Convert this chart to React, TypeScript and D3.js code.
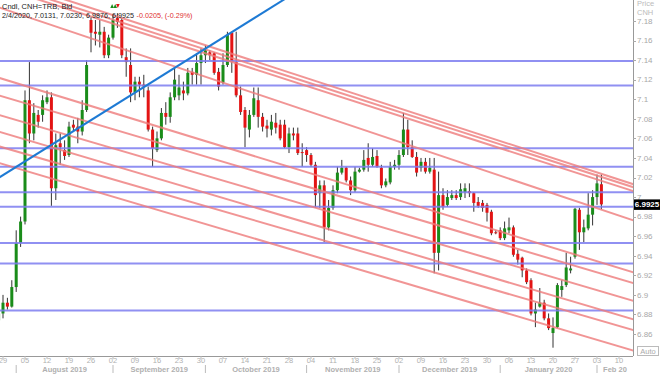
import React from 'react';
import * as d3 from 'd3';

// ---- candle data (daily, index 0 = Mon 29 Jul 2019) ----
const firstIndex = -1;
const opens = [6.874,6.881,6.892,6.888,6.908,6.953,6.975,7.099,7.065,7.084,7.084,7.097,7.102,7.009,7.055,7.048,7.043,7.074,7.072,7.067,7.089,
7.181,7.169,7.166,7.169,7.145,7.163,7.183,7.181,7.143,7.135,7.107,7.118,7.115,7.109,7.069,7.048,7.060,7.086,7.082,7.102,
7.104,7.109,7.106,7.128,7.125,7.137,7.145,7.148,7.147,7.128,7.117,7.135,7.168,7.138,7.104,7.089,7.069,7.084,7.099,7.082,
7.073,7.069,7.076,7.074,7.074,7.051,7.065,7.065,7.046,7.048,7.043,7.033,7.004,7.012,6.969,6.989,7.007,7.025,7.030,7.017,
7.007,7.026,7.028,7.040,7.033,7.042,7.030,7.012,7.015,7.031,7.033,7.043,7.069,7.051,7.041,7.030,7.036,7.026,7.028,6.943,
7.002,6.992,6.999,7.002,7.000,7.005,7.006,7.004,6.995,6.994,6.992,6.985,6.964,6.966,6.958,6.966,6.969,6.942,6.938,6.925,
6.915,6.881,6.888,6.892,6.876,6.861,6.867,6.905,6.910,6.925,6.939,6.987,6.964,6.968,6.982,7.000,7.0131];
const highs = [6.885,6.900,6.897,6.915,6.966,6.980,7.109,7.138,7.096,7.089,7.104,7.109,7.107,7.065,7.065,7.058,7.077,7.079,7.081,7.099,7.140,
7.183,7.181,7.181,7.174,7.166,7.187,7.188,7.183,7.152,7.152,7.123,7.123,7.125,7.113,7.072,7.067,7.091,7.097,7.107,7.132,
7.125,7.118,7.132,7.132,7.147,7.152,7.155,7.150,7.148,7.132,7.147,7.169,7.169,7.169,7.113,7.092,7.089,7.112,7.112,7.086,
7.079,7.084,7.086,7.079,7.079,7.071,7.071,7.071,7.055,7.051,7.045,7.036,7.017,7.017,6.997,7.012,7.031,7.038,7.031,7.021,
7.031,7.030,7.048,7.055,7.050,7.048,7.033,7.019,7.036,7.038,7.048,7.086,7.079,7.058,7.046,7.040,7.040,7.040,7.040,7.026,
7.009,7.007,7.007,7.007,7.014,7.014,7.014,7.005,7.000,6.997,6.994,6.987,6.966,6.969,6.975,6.979,6.971,6.946,6.939,6.927,
6.917,6.892,6.907,6.895,6.881,6.877,6.912,6.915,6.943,6.939,6.989,6.989,6.977,7.004,7.007,7.023,7.0230];
const lows = [6.869,6.876,6.885,6.887,6.903,6.949,6.972,7.055,7.058,7.071,7.077,7.095,6.991,6.997,7.033,7.038,7.041,7.067,7.055,7.063,7.087,
7.148,7.155,7.153,7.142,7.142,7.161,7.173,7.142,7.123,7.097,7.099,7.102,7.102,7.067,7.031,7.046,7.058,7.074,7.076,7.099,
7.099,7.099,7.104,7.115,7.115,7.115,7.137,7.140,7.125,7.109,7.115,7.133,7.127,7.102,7.084,7.051,7.061,7.082,7.071,7.067,
7.061,7.063,7.065,7.058,7.050,7.045,7.058,7.043,7.031,7.036,7.031,6.989,6.989,6.954,6.966,6.987,7.004,7.023,7.015,7.002,
7.005,7.025,7.026,7.026,7.031,7.030,7.009,7.010,7.013,7.028,7.028,7.041,7.043,7.040,7.021,7.026,7.024,7.024,6.922,6.925,
6.987,6.990,6.997,6.997,6.997,6.999,7.000,6.985,6.989,6.985,6.975,6.961,6.962,6.956,6.956,6.963,6.939,6.931,6.918,6.911,
6.879,6.867,6.887,6.874,6.864,6.846,6.866,6.898,6.908,6.922,6.937,6.946,6.954,6.966,6.971,6.992,6.9876];
const closes = [6.881,6.892,6.888,6.908,6.953,6.975,7.099,7.065,7.086,7.077,7.099,7.102,7.009,7.053,7.051,7.042,7.072,7.071,7.067,7.089,7.135,
7.168,7.167,7.169,7.145,7.163,7.181,7.179,7.145,7.138,7.107,7.118,7.115,7.113,7.069,7.050,7.060,7.086,7.082,7.102,7.120,
7.112,7.106,7.127,7.125,7.137,7.145,7.150,7.145,7.127,7.113,7.135,7.166,7.138,7.104,7.087,7.071,7.084,7.101,7.082,7.072,
7.070,7.077,7.071,7.060,7.051,7.065,7.063,7.045,7.045,7.043,7.033,7.002,7.012,6.969,6.989,7.007,7.025,7.030,7.017,7.007,
7.026,7.028,7.038,7.033,7.041,7.031,7.012,7.016,7.031,7.033,7.043,7.069,7.051,7.041,7.025,7.036,7.026,7.030,6.943,7.002,
6.990,7.000,7.002,6.999,7.008,7.009,7.004,6.994,6.991,6.989,6.984,6.963,6.963,6.958,6.968,6.969,6.941,6.936,6.925,6.913,
6.881,6.885,6.892,6.876,6.866,6.866,6.910,6.909,6.928,6.927,6.988,6.964,6.969,6.982,7.000,7.014,6.9925];

// ---- axis labels ----
const weekLabels = ['29','05','12','19','26','02','09','16','23','30','07','14','21','28','04','11','18','25','02','09','16','23','30','06','13','20','27','03','10'];
const monthLabels = ['August 2019','September 2019','October 2019','November 2019','December 2019','January 2020','Feb 20'];
const monthFirstIdx = [3, 25, 46, 69, 90, 113, 135];
const priceTicks = [6.86,6.88,6.9,6.92,6.94,6.96,6.98,7,7.02,7.04,7.06,7.08,7.1,7.12,7.14,7.16,7.18];

// ---- drawings ----
const levelPrices = [7.139, 7.114, 7.050, 7.031, 7.005, 6.990, 6.953, 6.932, 6.884];
const redStartPrices = [7.224, 7.219, 7.215, 7.194, 7.122, 7.104, 7.084, 7.067, 7.052, 7.035];
const redEndPrices = [7.012, 7.009, 7.005, 6.975, 6.922, 6.911, 6.893, 6.874, 6.863, 6.842];
const redStartIdx = -1;
const redEndIdx = 144;
const blueLineIdx = [-1, 70];
const blueLinePrices = [7.0196, 7.2192];
const markerIdx = [24.8, 25.5, 26.1];
const markerKind = ['up', 'up', 'down'];

const header1 = 'Cndl, CNH=TRB, Bid';
const header2 = '2/4/2020, 7.0131, 7.0230, 6.9876, 6.9925';
const header2Chg = '-0.0205, (-0.29%)';
const lastPrice = 6.9925;

const PLOT_R = 633;
const PLOT_B = 356;
const FONT = "'Liberation Sans', Arial, sans-serif";

export default function App() {
  const x = d3.scaleLinear().domain([0, 135]).range([3, 597]);
  const y = d3.scaleLinear().domain([6.86, 7.18]).range([334, 21]);
  const candles = opens.map((o, k) => ({ i: firstIndex + k, o, h: highs[k], l: lows[k], c: closes[k] }));
  const line = d3.line<[number, number]>().x(d => x(d[0])).y(d => y(d[1]));
  const bodyW = 3;

  const monthSeps = monthFirstIdx.map(i => x(i));
  const monthCenters = monthSeps.map((s, k) => {
    const e = k < monthSeps.length - 1 ? monthSeps[k + 1] : PLOT_R;
    return (s + Math.min(e, PLOT_R)) / 2;
  });

  return (
    <svg width={660} height={374} style={{ position: 'absolute', left: 0, top: 0, background: '#fff' }} fontFamily={FONT}>
      <defs>
        <clipPath id="plotClip"><rect x={0} y={0} width={PLOT_R} height={PLOT_B} /></clipPath>
      </defs>
      <rect x={0} y={0} width={660} height={374} fill="#fff" />
      <g clipPath="url(#plotClip)">
        {candles.map(d => {
          const cx = x(d.i);
          const up = d.c >= d.o;
          const top = y(Math.max(d.o, d.c));
          const bot = y(Math.min(d.o, d.c));
          return (
            <g key={d.i}>
              <line x1={cx} x2={cx} y1={y(d.h)} y2={y(d.l)} stroke="#333" strokeWidth={1} />
              <rect x={cx - bodyW / 2} y={top} width={bodyW} height={Math.max(1, bot - top)} fill={up ? '#1a8c1a' : '#e31414'} />
            </g>
          );
        })}
        {levelPrices.map((p, k) => (
          <line key={'lv' + k} x1={0} x2={PLOT_R} y1={y(p)} y2={y(p)} stroke="#7c7cf0" strokeOpacity={0.85} strokeWidth={2} />
        ))}
        {redStartPrices.map((p, k) => (
          <path key={'rl' + k} d={line([[redStartIdx, p], [redEndIdx, redEndPrices[k]]]) || ''} stroke="#ee7b7b" strokeOpacity={0.8} strokeWidth={2} fill="none" />
        ))}
        <path d={line([[blueLineIdx[0], blueLinePrices[0]], [blueLineIdx[1], blueLinePrices[1]]]) || ''} stroke="#1e7ad4" strokeWidth={2} fill="none" />
        {markerIdx.map((m, k) => {
          const mx = x(m);
          const pts = markerKind[k] === 'up'
            ? `${mx - 1.8},${8} ${mx + 1.8},${8} ${mx},${4}`
            : `${mx - 1.8},${4} ${mx + 1.8},${4} ${mx},${8}`;
          return <polygon key={'mk' + k} points={pts} fill={markerKind[k] === 'up' ? '#1a8c1a' : '#e31414'} />;
        })}
      </g>

      {/* header */}
      <text x={2} y={8.5} fontSize={7.5} fill="#222">{header1}</text>
      <text x={2} y={17.5} fontSize={7.2} fill="#222">{header2}</text>
      <text x={136.5} y={17.5} fontSize={7.2} fill="#e03030">{header2Chg}</text>

      {/* right axis */}
      <line x1={PLOT_R + 0.5} x2={PLOT_R + 0.5} y1={0} y2={PLOT_B} stroke="#999" />
      <text x={637} y={6} fontSize={7.5} fill="#bbb">Price</text>
      <text x={637} y={14.5} fontSize={7.5} fill="#bbb">CNH</text>
      {priceTicks.map(p => (
        <g key={'pt' + p}>
          <line x1={PLOT_R} x2={PLOT_R + 3} y1={Math.round(y(p)) + 0.5} y2={Math.round(y(p)) + 0.5} stroke="#aaa" />
          <text x={637} y={y(p)} dy="0.35em" fontSize={8} fill="#a8a8a8">{String(Math.round(p * 100) / 100)}</text>
        </g>
      ))}
      <rect x={634} y={y(lastPrice) - 5} width={26} height={10.5} fill="#000" />
      <text x={647} y={y(lastPrice) + 0.3} dy="0.35em" fontSize={8} fontWeight="bold" fill="#fff" textAnchor="middle">{lastPrice.toFixed(4)}</text>
      <rect x={637.5} y={346.5} width={21} height={9} fill="#fff" stroke="#bbb" />
      <text x={648} y={351} dy="0.35em" fontSize={7.5} fill="#aaa" textAnchor="middle">Auto</text>

      {/* bottom axis */}
      <line x1={0} x2={PLOT_R} y1={PLOT_B + 0.5} y2={PLOT_B + 0.5} stroke="#999" />
      {weekLabels.map((lab, k) => {
        const wx = x(k * 5);
        return (
          <g key={'wk' + k}>
            <line x1={wx} x2={wx} y1={PLOT_B} y2={PLOT_B + 3} stroke="#bbb" />
            <text x={wx} y={363} fontSize={7.5} fill="#b0b0b0" textAnchor="middle">{lab}</text>
          </g>
        );
      })}
      {monthLabels.map((lab, k) => (
        <g key={'mo' + k}>
          <line x1={monthSeps[k]} x2={monthSeps[k]} y1={365} y2={373} stroke="#bbb" />
          <text x={monthCenters[k]} y={372} fontSize={7.5} fontWeight="bold" fill="#b0b0b0" textAnchor="middle">{lab}</text>
        </g>
      ))}
    </svg>
  );
}
